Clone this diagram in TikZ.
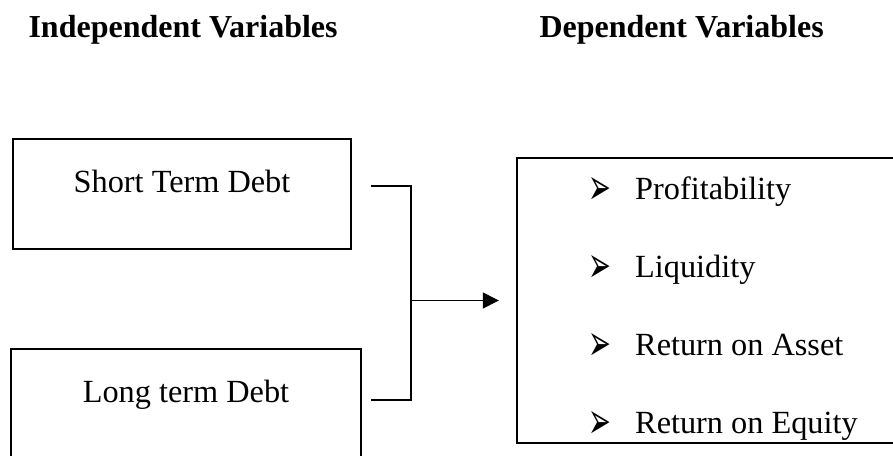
\documentclass[tikz,border=0pt]{standalone}
\usepackage{fontspec}
\setmainfont{Liberation Serif}
\newfontfamily\dingfont{DejaVu Sans}
\usetikzlibrary{arrows.meta}
\tikzset{
  varbox/.style={draw, line width=2.4pt, inner sep=0pt},
  link/.style={line width=1.3pt},
  heading/.style={anchor=base west, font=\fontsize{32}{38}\selectfont\bfseries},
}

\begin{document}
\begin{tikzpicture}[x=1pt, y=-1pt, font=\fontsize{32.3}{38}\selectfont]
\useasboundingbox (0,0) rectangle (893,455);
\clip (0,0) rectangle (893,455);
\node[heading] (indep) at (25,37) {Independent Variables};
\node[heading] (dep) at (536,37) {Dependent Variables};
\node[varbox, minimum width=338pt, text height=53pt, text depth=57pt, anchor=base] (short) at (182,192) {Short Term Debt};
\node[varbox, minimum width=350pt, text height=53pt, text depth=80pt, anchor=base] (long) at (186,402) {Long term Debt};
\node[varbox, minimum width=400pt, minimum height=285pt] (outcome) at (717,300.5) {};
\foreach \y/\item [count=\i] in {199/Profitability, 277/Liquidity, 355/Return on Asset, 433/Return on Equity}{
\node[anchor=base west, inner sep=0pt, font=\dingfont\fontsize{26}{30}\selectfont] (mark\i) at (588,\y+5) {\scalebox{1.05}[1.95]{➢}};
\node[anchor=base west, inner sep=0pt] (item\i) at (635,\y) {\item};
}
\coordinate (sfree) at (371,186);
\coordinate (lfree) at (371,400);
\coordinate (joint) at (411,300.5);
\coordinate (tip) at ([xshift=-17pt]outcome.west);
\draw[link] (sfree) -| (joint) |- (lfree);
\draw[link, -{Triangle[length=16pt, width=16pt]}] (joint) -- (tip);
\end{tikzpicture}
\end{document}
